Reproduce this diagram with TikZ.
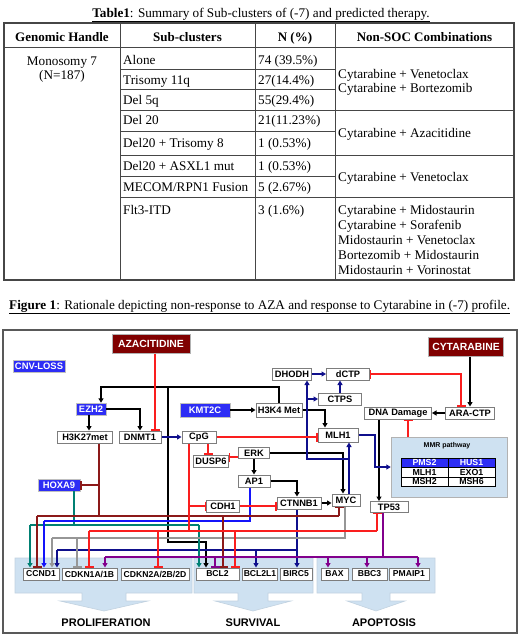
\documentclass[tikz,border=0pt]{standalone}
\usepackage{fontspec}
\setmainfont{Liberation Serif}
\setsansfont{Liberation Sans}
\usepackage{tikz}
\usetikzlibrary{arrows.meta}
\usetikzlibrary{calc}
\usetikzlibrary{positioning}

\definecolor{drugred}{RGB}{128,0,0}
\definecolor{cnvblue}{RGB}{45,45,245}
\definecolor{inhred}{RGB}{250,30,30}
\definecolor{brownred}{RGB}{140,25,25}
\definecolor{navyline}{RGB}{15,15,140}
\definecolor{brightblue}{RGB}{20,20,250}
\definecolor{tealline}{RGB}{0,128,115}
\definecolor{grayline}{RGB}{150,150,150}
\definecolor{purpline}{RGB}{130,0,140}
\definecolor{panelblue}{RGB}{206,225,241}
\definecolor{boxgray}{RGB}{125,125,125}
\definecolor{tabline}{RGB}{70,70,70}

\tikzset{
  drug/.style={fill=drugred, draw=gray!60, text=white,
    font=\sffamily\bfseries\fontsize{10.4}{12}\selectfont, minimum height=19pt},
  cnv/.style={fill=cnvblue, draw=gray!50, text=white, inner sep=1pt,
    font=\sffamily\bfseries\fontsize{9.4}{11}\selectfont, minimum height=12pt},
  gbox/.style={fill=white, draw=boxgray, line width=1pt, inner xsep=1.5pt, inner ysep=0pt,
    font=\sffamily\bfseries\fontsize{9.3}{11}\selectfont, minimum height=12pt},
  gene/.style={fill=white, draw=boxgray, line width=1pt, inner xsep=1pt, inner ysep=0pt,
    font=\sffamily\bfseries\fontsize{8.6}{10}\selectfont, minimum height=12pt},
  outcome/.style={font=\sffamily\bfseries\fontsize{11}{13}\selectfont},
  tabtext/.style={anchor=base west, inner sep=0pt, font=\fontsize{13.2}{15}\selectfont},
  act/.style={-{Triangle[length=4.5pt,width=5pt]}, line width=1.3pt},
  inh/.style={-{Bar[width=9pt]}, line width=1.3pt},
  wire/.style={line width=1.3pt}
}

\begin{document}
\begin{tikzpicture}[x=1pt,y=-1pt]
\useasboundingbox (0,0) rectangle (520,637);

% table title
\node[anchor=base, font=\fontsize{13.2}{15}\selectfont] (tabtitle) at (261,17)
  {\underline{\textbf{Table1}: Summary of Sub-clusters of (-7) and predicted therapy.}};

% table grid
\draw[tabline, line width=1.2pt] (4,23) rectangle (514,280);
\foreach \x in {120,255,335}
  \draw[tabline, line width=0.9pt] (\x,23) -- (\x,280);
\draw[tabline, line width=0.9pt] (4,47) -- (514,47);
\foreach \y in {69,89,110,131,155,176,197}
  \draw[tabline, line width=0.9pt] (120,\y) -- (335,\y);
\foreach \y in {110,155,197}
  \draw[tabline, line width=0.9pt] (335,\y) -- (514,\y);

% header
\foreach \i/\x/\lab in {1/62/Genomic Handle, 2/187.5/Sub-clusters, 3/295/N (\%), 4/424.5/Non-SOC Combinations}
  \node[anchor=base, inner sep=0pt, font=\bfseries\fontsize{13}{15}\selectfont] (hd\i) at (\x,41) {\lab};

% rows
\node[anchor=base, inner sep=0pt, font=\fontsize{13.2}{15}\selectfont] (mono) at (62,65) {Monosomy 7};
\node[anchor=base, inner sep=0pt, font=\fontsize{13.2}{15}\selectfont] (monon) at (62,79) {(N=187)};
\foreach \i/\y/\sub/\n in {1/64/Alone/74 (39.5\%), 2/84/Trisomy 11q/27(14.4\%),
    3/104/Del 5q/55(29.4\%), 4/124/Del 20/21(11.23\%), 5/147/Del20 + Trisomy 8/1 (0.53\%),
    6/170/Del20 + ASXL1 mut/1 (0.53\%), 7/191/{MECOM/RPN1 Fusion}/5 (2.67\%), 8/214/Flt3-ITD/3 (1.6\%)}
{
  \node[tabtext] (sub\i) at (123,\y) {\sub};
  \node[tabtext] (n\i) at (258,\y) {\n};
}
\node[tabtext] (soc1) at (338,78) {Cytarabine + Venetoclax};
\node[tabtext] (soc2) at (338,92) {Cytarabine + Bortezomib};
\node[tabtext] (soc3) at (338,137) {Cytarabine + Azacitidine};
\node[tabtext] (soc4) at (338,181) {Cytarabine + Venetoclax};
\foreach \i/\y/\lab in {5/214/Cytarabine + Midostaurin, 6/229/Cytarabine + Sorafenib,
    7/244/Midostaurin + Venetoclax, 8/259/Bortezomib + Midostaurin, 9/274/Midostaurin + Vorinostat}
  \node[tabtext] (soc\i) at (338,\y) {\lab};

% figure caption
\node[anchor=base west, inner sep=0pt, font=\fontsize{13.2}{15}\selectfont] (figcap) at (9,309)
  {\underline{\textbf{Figure 1}: Rationale depicting non-response to AZA and response to Cytarabine in (-7) profile.}};

% figure frame
\draw[gray!70!black, line width=1.3pt] (3,330) rectangle (517,633);

% outcome panels with block arrows
\foreach \l/\r/\c/\s/\h in {15/192/104/22/44, 194/313/253/15/38, 317/435/376/14/29}
  \draw[panelblue!85!gray, fill=panelblue, line width=0.6pt]
    (\l,558) -- (\r,558) -- (\r,593) -- (\c+\s,593) -- (\c+\s,601) -- (\c+\h,601)
    -- (\c,611) -- (\c-\h,601) -- (\c-\s,601) -- (\c-\s,593) -- (\l,593) -- cycle;
\node[outcome] (prolif) at (106,623) {PROLIFERATION};
\node[outcome] (surviv) at (253,623) {SURVIVAL};
\node[outcome] (apopt) at (384,623) {APOPTOSIS};

% target genes
\foreach \nm/\x/\w/\lab in {ccnd1/41/36/CCND1, cdkn1/89.5/55/{CDKN1A/1B}, cdkn2/155/68/{CDKN2A/2B/2D},
    bcl2/217.5/43/BCL2, bcl2l1/260/34/BCL2L1, birc5/296/32/BIRC5,
    bax/334.5/27/BAX, bbc3/369.5/35/BBC3, pmaip1/409/40/PMAIP1}
  \node[gene, minimum width=\w pt] (\nm) at (\x,574) {\lab};

% drugs and copy-number loss
\node[drug, minimum width=78pt] (azac) at (151,344) {AZACITIDINE};
\node[drug, minimum width=75pt] (cytar) at (466,347) {CYTARABINE};
\node[cnv, minimum width=52pt] (cnvloss) at (39,366) {CNV-LOSS};
\node[cnv, minimum width=30pt] (ezh2) at (91,409) {EZH2};
\node[cnv, minimum width=50pt, minimum height=14pt] (kmt2c) at (205,410) {KMT2C};
\node[cnv, minimum width=42pt] (hoxa9) at (59,485) {HOXA9};

% pathway nodes
\node[gbox, minimum width=55pt] (h3k27) at (85,437) {H3K27met};
\node[gbox, minimum width=42pt] (dnmt1) at (140,437) {DNMT1};
\node[gbox, minimum width=34pt] (cpg) at (199,437) {CpG};
\node[gbox, minimum width=34pt] (dusp6) at (211,461) {DUSP6};
\node[gbox, minimum width=31pt, minimum height=11pt] (erk) at (254,453) {ERK};
\node[gbox, minimum width=32pt] (ap1) at (254,481) {AP1};
\node[gbox, minimum width=33pt] (cdh1) at (223,506) {CDH1};
\node[gbox, minimum width=44pt] (ctnnb1) at (299,503) {CTNNB1};
\node[gbox, minimum width=28pt] (myc) at (346,500) {MYC};
\node[gbox, minimum width=38pt, minimum height=11pt] (tp53) at (389,507) {TP53};
\node[gbox, minimum width=46pt, minimum height=14pt] (h3k4) at (279,410) {H3K4 Met};
\node[gbox, minimum width=39pt] (dhodh) at (292,374) {DHODH};
\node[gbox, minimum width=43pt] (dctp) at (348,374) {dCTP};
\node[gbox, minimum width=43pt] (ctps) at (340,399) {CTPS};
\node[gbox, minimum width=40pt, minimum height=14pt] (mlh1) at (338,435) {MLH1};
\node[gbox, minimum width=67pt] (dnadmg) at (398,413) {DNA Damage};
\node[gbox, minimum width=49pt] (aractp) at (470,413) {ARA-CTP};

% MMR pathway
\node[draw=gray!60, fill=panelblue, minimum width=116pt, minimum height=60pt] (mmr) at (449,467) {};
\node[font=\sffamily\bfseries\fontsize{7}{8}\selectfont] (mmrlab) at (447,446) {MMR pathway};
\fill[cnvblue] (401,458) rectangle (495,467.5);
\fill[white] (401,467.5) rectangle (495,486);
\draw[line width=0.6pt] (401,458) rectangle (495,486);
\draw[line width=0.6pt] (448,458) -- (448,486);
\draw[line width=0.6pt] (401,467.5) -- (495,467.5);
\draw[line width=0.6pt] (401,477) -- (495,477);
\foreach \i/\x/\y/\lab/\col in {1/424.5/462.75/PMS2/white, 2/471.5/462.75/HUS1/white,
    3/424.5/472.25/MLH1/black, 4/471.5/472.25/EXO1/black,
    5/424.5/481.5/MSH2/black, 6/471.5/481.5/MSH6/black}
  \node[text=\col, inner sep=0pt, font=\sffamily\bfseries\fontsize{8.8}{10}\selectfont] (mmrg\i) at (\x,\y) {\lab};

% black activations
\draw[act] (ezh2.south -| 89,0) -- (89,0 |- h3k27.north);
\draw[act] (ezh2.east) -| (dnmt1.north);
\draw[act] (kmt2c) -- (h3k4);
\draw[act] (h3k4.east) -| (325,0 |- mlh1.north);
\draw[act] (h3k4.north) |- (101,387) -- (101,0 |- ezh2.north);
\coordinate (blkj) at (168,387);
\draw[act] (blkj) -- (168,542) -| (206,0 |- bcl2.north);
\draw[act] (aractp.north |- cytar.south) -- (aractp.north);
\draw[act] (aractp) -- (dnadmg);
\draw[act] (379,0 |- dnadmg.south) -- (379,0 |- tp53.north);
\draw[act] (erk) -- (ap1);
\draw[act] (erk.east) -| (343,0 |- myc.north);
\draw[act] (ap1.east) -| (297,0 |- ctnnb1.north);
\draw[act] (ctnnb1.east) -- (ctnnb1.east -| myc.west);

% navy activations
\draw[act, navyline] (dnmt1) -- (cpg);
\draw[act, navyline] (dhodh) -- (dctp);
\draw[act, navyline] (ctps.north) -- (ctps.north |- dctp.south);
\draw[act, navyline] (349,0 |- myc.north) -- (349,0 |- mlh1.south);
\draw[act, navyline] (349,459) -| (307,0 |- dhodh.south);
\draw[act, navyline] (307,399) -- (307,399 -| ctps.west);
\draw[act, navyline] (mlh1.east) -| (375,467) -- (mmr.west);
\draw[act, navyline] (297,0 |- ctnnb1.south) -- (297,0 |- birc5.north);
\draw[wire, navyline] (297,550) -- (57,550);
\foreach \x/\g in {57/ccnd1, 256/bcl2l1}
  \draw[act, navyline] (\x,550) -- (\x,550 |- \g.north);

% teal and blue activations
\draw[wire, tealline] (74,0 |- hoxa9.south) -- (74,525);
\draw[wire, tealline] (30,525) -- (199,525);
\foreach \x/\g in {30/ccnd1, 199/bcl2}
  \draw[act, tealline] (\x,525) -- (\x,525 |- \g.north);
\draw[wire, brightblue] (250,0 |- ap1.south) |- (44,521);
\draw[act, brightblue] (44,521) -- (44,521 |- ccnd1.north);

% gray from MYC
\draw[wire, grayline] (345,0 |- myc.south) |- (52,538);
\draw[act, grayline] (52,538) -- (52,538 |- ccnd1.north);
\draw[inh, grayline] (77,538) -- (77,538 |- cdkn1.north);

% H3K27met inhibitions
\draw[wire, brownred] (99,0 |- h3k27.south) -- (99,516);
\draw[inh, brownred] (99,485) -- (99,485 -| hoxa9.east);
\draw[wire, brownred] (37,516) -- (339,516);
\draw[inh, brownred] (339,516) -- (339,516 |- myc.south);
\foreach \x/\g in {37/ccnd1, 223/bcl2}
  \draw[inh, brownred] (\x,516) -- (\x,516 |- \g.north);

% red inhibitions
\draw[inh, inhred] (155,0 |- azac.south) -- (155,0 |- dnmt1.north);
\draw[inh, inhred] (cpg.east) -- (cpg.east -| mlh1.west);
\draw[inh, inhred] (208,0 |- cpg.south) -- (208,0 |- dusp6.north);
\draw[inh, inhred] (erk.west |- 0,457) -- (dusp6.east |- 0,457);
\draw[wire, inhred] (189,0 |- cpg.south) -- (189,531);
\draw[inh, inhred] (189,506) -- (189,506 -| cdh1.west);
\draw[inh, inhred] (cdh1.east) -- (cdh1.east -| ctnnb1.west);
\draw[wire, inhred] (89,531) -- (377,531);
\draw[inh, inhred] (377,531) -- (377,531 |- tp53.south);
\foreach \x/\g in {89/cdkn1, 158/cdkn2, 235/bcl2}
  \draw[inh, inhred] (\x,531) -- (\x,531 |- \g.north);
\draw[inh, inhred] (408,0 |- mmr.north) -- (408,0 |- dnadmg.south);
\draw[{Bar[width=9pt]}-{Bar[width=9pt]}, line width=1.3pt, inhred] (dctp.east) -| (461,0 |- aractp.north);

% TP53 targets
\draw[wire, purpline] (383,0 |- tp53.south) -- (383,557);
\draw[wire, purpline] (105,557) -- (418,557);
\foreach \x/\g in {105/cdkn1, 328/bax, 367/bbc3, 418/pmaip1}
  \draw[act, purpline] (\x,557) -- (\x,557 |- \g.north);
\draw[inh, purpline] (215,557) -- (215,557 |- bcl2.north);

\end{tikzpicture}
\end{document}
